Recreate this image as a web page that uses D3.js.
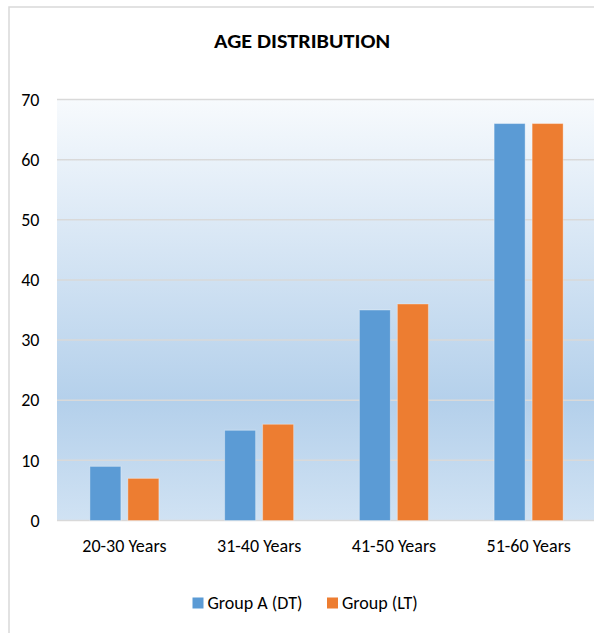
<!DOCTYPE html>
<html>
<head>
<meta charset="utf-8">
<script src="https://cdn.jsdelivr.net/npm/d3@7"></script>
<style>
  html, body { margin: 0; padding: 0; background: #fff; }
  svg { display: block; }
  text { font-family: Carlito, Lato, "Open Sans", sans-serif; fill: #000; }
</style>
</head>
<body>
<svg id="chart" width="594" height="633"></svg>
<script>
// Age groups and counts per group
const categories = ["20-30 Years", "31-40 Years", "41-50 Years", "51-60 Years"];
const seriesNames = ["Group A (DT)", "Group (LT)"];
const groupA = [9, 15, 35, 66];
const groupLT = [7, 16, 36, 66];
const yTicks = [0, 10, 20, 30, 40, 50, 60, 70];
const colors = ["#5b9bd5", "#ed7d31"];

const svg = d3.select("#chart");
const W = 594, H = 633;
const plot = { left: 57, right: 596, top: 99.5, bottom: 520.5 };
const FONT = "Carlito, Lato, 'Open Sans', sans-serif";

// Chart frame (runs past the right and bottom edges)
svg.append("rect")
  .attr("x", 9).attr("y", 7)
  .attr("width", W + 20).attr("height", H + 20)
  .attr("fill", "#fff")
  .attr("stroke", "#d9d9d9").attr("stroke-width", 1.5);

// Title
svg.append("text")
  .attr("x", 302).attr("y", 47.7)
  .attr("text-anchor", "middle")
  .attr("textLength", 176).attr("lengthAdjust", "spacingAndGlyphs")
  .style("font-size", "20px").style("font-weight", "bold")
  .text("AGE DISTRIBUTION");

const x0 = d3.scaleBand().domain(categories).range([plot.left, plot.right]).paddingInner(0).paddingOuter(0);
const y = d3.scaleLinear().domain([0, 70]).range([plot.bottom, plot.top]);

// Plot area gradient background
const defs = svg.append("defs");
const grad = defs.append("linearGradient").attr("id", "bg").attr("x1", 0).attr("y1", 0).attr("x2", 0).attr("y2", 1);
grad.append("stop").attr("offset", "0%").attr("stop-color", "#f7fafd");
grad.append("stop").attr("offset", "72%").attr("stop-color", "#b4d0eb");
grad.append("stop").attr("offset", "100%").attr("stop-color", "#d0e2f3");

svg.append("rect")
  .attr("x", plot.left).attr("y", plot.top)
  .attr("width", plot.right - plot.left).attr("height", plot.bottom - plot.top)
  .attr("fill", "url(#bg)");

// Gridlines
svg.append("g")
  .selectAll("line").data(yTicks).join("line")
  .attr("x1", plot.left).attr("x2", plot.right)
  .attr("y1", d => y(d)).attr("y2", d => y(d))
  .attr("stroke", "#d9d9d9").attr("stroke-width", 1.5);

// Y axis labels
const yAxis = d3.axisLeft(y).tickValues(yTicks).tickSize(0).tickPadding(0);
const gy = svg.append("g").attr("transform", "translate(39.5,0)").call(yAxis);
gy.select(".domain").remove();
gy.selectAll("text").style("font-size", "18px").style("font-family", FONT).attr("fill", "#000");

// X axis labels
const xAxis = d3.axisBottom(x0).tickSize(0).tickPadding(0);
const gx = svg.append("g").attr("transform", "translate(0,539)").call(xAxis);
gx.select(".domain").remove();
gx.selectAll("text").style("font-size", "18px").style("font-family", FONT).attr("fill", "#000");

// Bars: two series per category
const barW = 31, gap = 7;
const x1 = d3.scaleOrdinal().domain([0, 1]).range([-(gap / 2 + barW), gap / 2]);
const series = [groupA, groupLT];
series.forEach((vals, si) => {
  svg.append("g").selectAll("rect").data(vals).join("rect")
    .attr("x", (d, i) => x0(categories[i]) + x0.bandwidth() / 2 + x1(si))
    .attr("y", d => y(d))
    .attr("width", barW)
    .attr("height", d => y(0) - y(d))
    .attr("fill", colors[si])
    .attr("stroke", "rgba(255,255,255,0.35)").attr("stroke-width", 1);
});

// Legend
const legendItems = [
  { name: seriesNames[0], color: colors[0], x: 192.5 },
  { name: seriesNames[1], color: colors[1], x: 327 }
];
const lg = svg.append("g");
legendItems.forEach(it => {
  lg.append("rect").attr("x", it.x).attr("y", 597.5).attr("width", 11).attr("height", 11).attr("fill", it.color);
  lg.append("text").attr("x", it.x + 15).attr("y", 609)
    .style("font-size", "18px").text(it.name);
});
</script>
</body>
</html>
